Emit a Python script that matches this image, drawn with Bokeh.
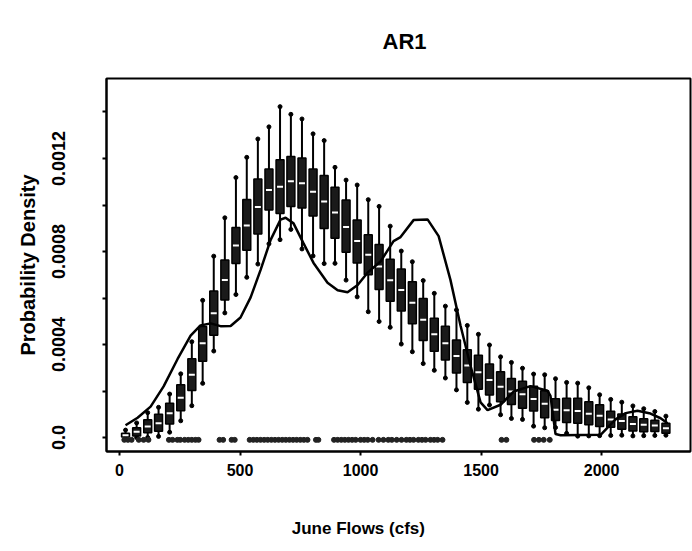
import numpy as np
from bokeh.plotting import figure
from bokeh.models import Range1d, FixedTicker
from bokeh.embed import file_html
from bokeh.resources import INLINE

# Box centres (June flow, cfs)
box_x = [25, 71, 117, 162, 208, 254, 300, 345, 391, 437, 483, 528, 574, 620, 666,
         711, 757, 803, 849, 894, 940, 986, 1032, 1077, 1123, 1169, 1215, 1260, 1306,
         1352, 1398, 1443, 1489, 1535, 1581, 1626, 1672, 1718, 1764, 1809, 1855, 1901,
         1947, 1992, 2038, 2084, 2130, 2175, 2221, 2267]

# Box statistics (probability density)
whisker_hi = [0.32e-4, 0.63e-4, 1.07e-4, 1.30e-4, 1.87e-4, 2.74e-4, 4.12e-4, 5.90e-4, 7.80e-4, 9.45e-4,
              11.18e-4, 12.05e-4, 12.84e-4, 13.36e-4, 14.23e-4, 13.90e-4, 13.70e-4, 13.06e-4, 12.77e-4, 11.62e-4,
              11.07e-4, 10.86e-4, 10.23e-4, 9.94e-4, 9.09e-4, 8.02e-4, 7.56e-4, 6.75e-4, 6.20e-4, 5.65e-4,
              5.49e-4, 4.82e-4, 4.44e-4, 3.98e-4, 3.47e-4, 3.23e-4, 2.98e-4, 2.73e-4, 2.70e-4, 2.53e-4,
              2.37e-4, 2.34e-4, 2.14e-4, 1.84e-4, 1.64e-4, 1.52e-4, 1.36e-4, 1.24e-4, 1.12e-4, 0.92e-4]
q3 = [0.19e-4, 0.42e-4, 0.77e-4, 1.00e-4, 1.48e-4, 2.27e-4, 3.39e-4, 4.78e-4, 6.30e-4, 7.64e-4,
      9.03e-4, 10.24e-4, 11.12e-4, 11.55e-4, 11.95e-4, 12.09e-4, 12.02e-4, 11.55e-4, 11.27e-4, 10.76e-4,
      10.21e-4, 9.36e-4, 8.72e-4, 8.30e-4, 7.67e-4, 7.25e-4, 6.70e-4, 5.98e-4, 5.13e-4, 4.79e-4,
      4.20e-4, 3.78e-4, 3.54e-4, 3.16e-4, 2.83e-4, 2.54e-4, 2.42e-4, 2.21e-4, 2.01e-4, 1.67e-4,
      1.69e-4, 1.69e-4, 1.54e-4, 1.41e-4, 1.13e-4, 1.01e-4, 0.89e-4, 0.81e-4, 0.74e-4, 0.61e-4]
median = [0.10e-4, 0.25e-4, 0.47e-4, 0.61e-4, 1.05e-4, 1.71e-4, 2.70e-4, 4.05e-4, 5.35e-4, 6.78e-4,
          8.26e-4, 9.12e-4, 9.91e-4, 10.65e-4, 10.79e-4, 11.02e-4, 10.94e-4, 10.57e-4, 10.15e-4, 9.68e-4,
          9.05e-4, 8.45e-4, 7.86e-4, 7.36e-4, 6.76e-4, 6.35e-4, 5.80e-4, 5.07e-4, 4.44e-4, 4.06e-4,
          3.51e-4, 3.10e-4, 2.81e-4, 2.47e-4, 2.18e-4, 1.98e-4, 1.86e-4, 1.66e-4, 1.45e-4, 1.20e-4,
          1.17e-4, 1.14e-4, 1.02e-4, 0.94e-4, 0.78e-4, 0.71e-4, 0.58e-4, 0.55e-4, 0.52e-4, 0.40e-4]
q1 = [0.02e-4, 0.07e-4, 0.21e-4, 0.27e-4, 0.58e-4, 1.15e-4, 2.02e-4, 3.28e-4, 4.40e-4, 5.92e-4,
      7.48e-4, 8.05e-4, 8.75e-4, 9.79e-4, 9.63e-4, 9.94e-4, 9.87e-4, 9.53e-4, 8.99e-4, 8.57e-4,
      7.97e-4, 7.51e-4, 7.00e-4, 6.37e-4, 5.86e-4, 5.44e-4, 4.89e-4, 4.17e-4, 3.71e-4, 3.33e-4,
      2.78e-4, 2.37e-4, 2.08e-4, 1.83e-4, 1.54e-4, 1.42e-4, 1.26e-4, 1.14e-4, 0.85e-4, 0.73e-4,
      0.65e-4, 0.62e-4, 0.55e-4, 0.47e-4, 0.44e-4, 0.36e-4, 0.28e-4, 0.25e-4, 0.26e-4, 0.18e-4]
whisker_lo = [0.0, 0.0, 0.0, 0.05e-4, 0.23e-4, 0.72e-4, 1.37e-4, 2.33e-4, 3.72e-4, 5.36e-4,
              6.15e-4, 6.89e-4, 7.46e-4, 8.33e-4, 8.51e-4, 8.95e-4, 8.11e-4, 7.81e-4, 7.48e-4, 7.49e-4,
              6.77e-4, 6.05e-4, 5.41e-4, 4.99e-4, 4.74e-4, 4.02e-4, 3.69e-4, 3.18e-4, 2.89e-4, 2.56e-4,
              2.05e-4, 1.51e-4, 1.22e-4, 1.40e-4, 0.98e-4, 0.82e-4, 0.78e-4, 0.49e-4, 0.42e-4, 0.43e-4,
              0.18e-4, 0.06e-4, 0.07e-4, 0.08e-4, 0.09e-4, 0.10e-4, 0.07e-4, 0.08e-4, 0.09e-4, 0.10e-4]

# Density estimate of the observed flows
dens_x = [25, 75, 129, 183, 241, 295, 336, 378, 419, 461, 502, 544, 585, 627, 668, 689, 722,
          763, 805, 863, 905, 946, 988, 1029, 1083, 1137, 1166, 1220, 1278, 1324, 1373, 1415,
          1456, 1498, 1527, 1581, 1635, 1705, 1776, 1788, 1809, 1830, 1996, 2058, 2100, 2149,
          2203, 2245, 2274]
dens_y = [0.53e-4, 0.85e-4, 1.33e-4, 2.20e-4, 3.38e-4, 4.38e-4, 4.82e-4, 4.91e-4, 4.79e-4, 4.80e-4,
          5.16e-4, 6.03e-4, 7.20e-4, 8.50e-4, 9.37e-4, 9.45e-4, 9.21e-4, 8.36e-4, 7.51e-4, 6.66e-4,
          6.33e-4, 6.25e-4, 6.56e-4, 7.09e-4, 7.57e-4, 8.45e-4, 8.62e-4, 9.35e-4, 9.38e-4, 8.66e-4,
          6.78e-4, 4.81e-4, 3.10e-4, 1.51e-4, 1.18e-4, 1.41e-4, 1.98e-4, 2.21e-4, 2.01e-4, 1.79e-4,
          0.15e-4, 0.10e-4, 0.12e-4, 0.78e-4, 1.05e-4, 1.15e-4, 1.03e-4, 0.83e-4, 0.61e-4]

# Observed June flows (rug)
obs_flows = [20, 35, 50, 80, 100, 120, 205, 220, 240, 252, 270, 285, 300, 315, 328, 415, 430,
             465, 478, 540, 555, 570, 585, 600, 615, 630, 645, 660, 675, 690, 705, 720, 735, 750,
             765, 780, 815, 825, 890, 905, 920, 935, 950, 965, 980, 1000, 1015, 1030, 1050,
             1075, 1095, 1115, 1130, 1150, 1170, 1190, 1205, 1220, 1240, 1255, 1270, 1290, 1305,
             1320, 1340, 1585, 1605, 1720, 1740, 1760, 1785]
obs_level = [-0.00001] * len(obs_flows)

FONT = "Liberation Sans"

p = figure(width=692, height=551, output_backend="svg", toolbar_location=None,
           x_range=Range1d(-54, 2369), y_range=Range1d(-0.00006, 0.001544),
           min_border_left=106, min_border_right=2, min_border_top=78, min_border_bottom=100)

p.background_fill_color = "white"
p.border_fill_color = "white"
p.outline_line_color = "black"
p.outline_line_width = 2
p.xgrid.visible = False
p.ygrid.visible = False

# whiskers
p.segment(x0=box_x, y0=whisker_lo, x1=box_x, y1=whisker_hi, line_color="black", line_width=2)
p.scatter(x=box_x, y=whisker_hi, size=4, color="black")
p.scatter(x=box_x, y=whisker_lo, size=4, color="black")
# boxes
p.vbar(x=box_x, width=33, top=q3, bottom=q1, fill_color="#1a1a1a", line_color="black", line_width=1.5)
p.scatter(x=box_x, y=median, marker="dash", size=6, line_color="white", line_width=2)

# density line
p.line(dens_x, dens_y, line_color="black", line_width=2.5)

# rug of observations
p.scatter(x=obs_flows, y=obs_level, marker="circle", size=5, color="#222222")

# axes
p.xaxis.ticker = FixedTicker(ticks=[0, 500, 1000, 1500, 2000])
p.yaxis.ticker = FixedTicker(ticks=[0.0, 0.0004, 0.0008, 0.0012],
                             minor_ticks=[0.0002, 0.0006, 0.001, 0.0014])
p.yaxis.major_label_overrides = {0.0: "0.0", 0.0004: "0.0004", 0.0008: "0.0008", 0.0012: "0.0012"}
p.yaxis.major_label_orientation = "vertical"

for ax in (p.xaxis[0], p.yaxis[0]):
    ax.axis_line_width = 2
    ax.axis_line_color = "black"
    ax.major_tick_in = 0
    ax.major_tick_out = 4
    ax.major_tick_line_width = 2
    ax.minor_tick_in = 0
    ax.minor_tick_out = 4
    ax.minor_tick_line_width = 2
    ax.major_label_text_font = FONT
    ax.major_label_text_font_style = "bold"
    ax.major_label_text_color = "black"
    ax.axis_label_text_font = FONT
    ax.axis_label_text_font_style = "bold"
    ax.axis_label_text_color = "black"

p.xaxis.minor_tick_out = 0
p.xaxis.major_label_text_font_size = "16px"
p.yaxis.major_label_text_font_size = "18px"
p.xaxis.major_label_standoff = 8
# the original's x title sits left of the frame centre; non-breaking spaces shift it
p.xaxis.axis_label = "June Flows (cfs)" + "\u00a0" * 17
p.xaxis.axis_label_text_font_size = "17px"
p.xaxis.axis_label_standoff = 40
p.yaxis.axis_label = "Probability Density"
p.yaxis.axis_label_text_font_size = "20px"
p.yaxis.major_label_standoff = 37
p.yaxis.axis_label_standoff = 11

p.title.text = "AR1"
p.title.align = "left"
p.title.offset = 276
p.title.text_font = FONT
p.title.text_font_size = "22px"
p.title.text_font_style = "bold"
p.title.text_color = "black"
p.title.standoff = 50

open("out.html", "w").write(file_html(p, INLINE))
